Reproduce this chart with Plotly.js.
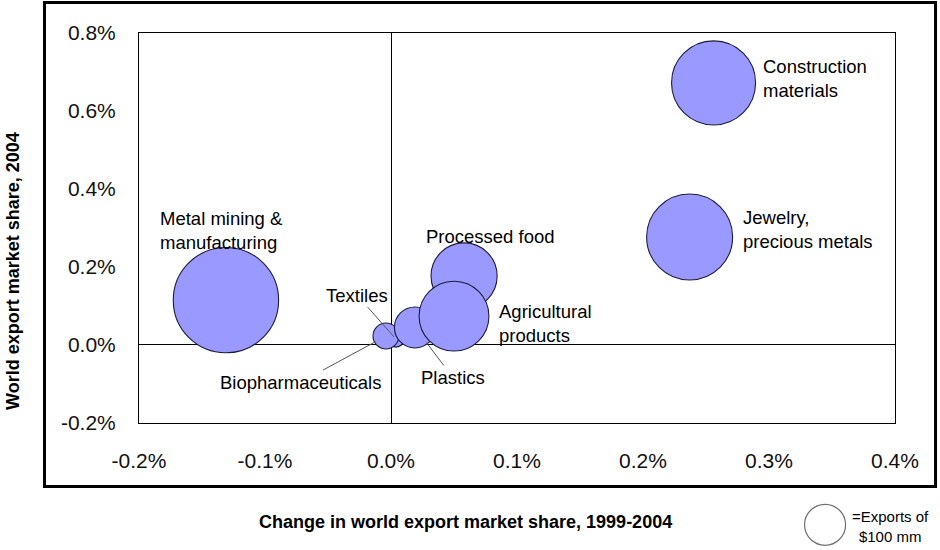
<!DOCTYPE html>
<html>
<head>
<meta charset="utf-8">
<script src="https://cdn.plot.ly/plotly-3.0.1.min.js"></script>
<style>
  html, body { margin: 0; padding: 0; background: #ffffff; }
  #chart { width: 940px; height: 550px; }
</style>
</head>
<body>
<div id="chart"></div>
<script>
// ---- Data ----
const industries = [
  "Construction<br>materials",
  "Jewelry,<br>precious metals",
  "Metal mining &<br>manufacturing",
  "Processed food",
  "Textiles",
  "Biopharmaceuticals",
  "Plastics",
  "Agricultural<br>products"
];
// Change in world export market share, 1999-2004 (%)
const shareChange = [0.256, 0.237, -0.131, 0.058, 0.004, -0.004, 0.019, 0.050];
// World export market share, 2004 (%)
const share2004 = [0.672, 0.277, 0.115, 0.177, 0.015, 0.023, 0.045, 0.074];
// Exports ($ mm) -> bubble area
const exportsMM = [420, 440, 660, 260, 15, 40, 100, 290];
// Reference bubble for the size key
const keyExports = [100];
const xTicks = [-0.2, -0.1, 0.0, 0.1, 0.2, 0.3, 0.4];
const yTicks = [-0.2, 0.0, 0.2, 0.4, 0.6, 0.8];

// ---- Styling / placement (not data) ----
const FONT = "Liberation Sans, Arial, Helvetica, sans-serif";
const SIZEREF = 0.119; // area mode: radius^2 = size / (2*sizeref)
// drawing order indices (later = on top)
const order = [0, 1, 2, 3, 4, 5, 6, 7];

// label placement: [xanchor, xshift, yshift] relative to bubble, or arrow offsets
const labelStyle = {
  0: {type: "text", xshift: 47, yshift: 4},
  1: {type: "text", xshift: 51, yshift: 7},
  2: {type: "text", xshift: -68, yshift: 70},
  3: {type: "text", xshift: -40, yshift: 39},
  4: {type: "arrow", ax: -39, ay: -44, standoff: 3},
  5: {type: "arrow", ax: -85, ay: 46, standoff: 12},
  6: {type: "arrow", ax: 38, ay: 50, standoff: 19},
  7: {type: "text", xshift: 43, yshift: -7}
};

const bubbleTrace = {
  type: "scatter",
  mode: "markers",
  x: order.map(i => shareChange[i]),
  y: order.map(i => share2004[i]),
  text: order.map(i => industries[i]),
  xaxis: "x", yaxis: "y",
  cliponaxis: false,
  hoverinfo: "skip",
  marker: {
    size: order.map(i => exportsMM[i]),
    sizemode: "area",
    sizeref: SIZEREF,
    color: "#9999FF",
    opacity: 1,
    line: {color: "#1c1c3a", width: 1.1}
  },
  showlegend: false
};

const keyTrace = {
  type: "scatter",
  mode: "markers",
  x: [0.5], y: [0.5],
  xaxis: "x2", yaxis: "y2",
  cliponaxis: false,
  hoverinfo: "skip",
  marker: {
    size: keyExports,
    sizemode: "area",
    sizeref: SIZEREF,
    color: "#ffffff",
    line: {color: "#333333", width: 1.2}
  },
  showlegend: false
};

const annotations = [];
industries.forEach((name, i) => {
  const s = labelStyle[i];
  const base = {
    x: shareChange[i], y: share2004[i], xref: "x", yref: "y",
    text: name,
    font: {family: FONT, size: 18.5, color: "#000000"},
  };
  if (s.type === "text") {
    annotations.push(Object.assign(base, {
      showarrow: false, xanchor: "left", yanchor: "middle", align: "left",
      xshift: s.xshift, yshift: s.yshift
    }));
  } else {
    annotations.push(Object.assign(base, {
      showarrow: true, arrowhead: 0, arrowwidth: 1, arrowcolor: "#555555",
      ax: s.ax, ay: s.ay, standoff: s.standoff
    }));
  }
});

// axis titles and size key text
annotations.push({
  xref: "paper", yref: "paper", x: 0.4325, y: 0.0355,
  text: "<b>Change in world export market share, 1999-2004</b>",
  showarrow: false, xanchor: "center", yanchor: "middle",
  font: {family: FONT, size: 18, color: "#000000"}
});
annotations.push({
  xref: "paper", yref: "paper", x: -0.1667, y: 0.5306,
  text: "<b>World export market share, 2004</b>",
  textangle: -90,
  showarrow: false, xanchor: "center", yanchor: "middle",
  font: {family: FONT, size: 18, color: "#000000"}
});
annotations.push({
  xref: "paper", yref: "paper", x: 0.9947, y: 0.0276,
  text: "=Exports of<br>$100 mm",
  showarrow: false, xanchor: "center", yanchor: "middle", align: "center",
  font: {family: FONT, size: 15, color: "#000000"}
});

const layout = {
  width: 940, height: 550,
  margin: {l: 139, r: 45, t: 33, b: 10, pad: 0},
  paper_bgcolor: "#ffffff",
  plot_bgcolor: "#ffffff",
  font: {family: FONT, color: "#000000"},
  showlegend: false,
  xaxis: {
    domain: [0, 1], anchor: "y",
    range: [-0.2, 0.4],
    tickvals: xTicks,
    ticktext: xTicks.map(v => v.toFixed(1) + "%"),
    ticks: "", showgrid: false,
    zeroline: true, zerolinecolor: "#000000", zerolinewidth: 1,
    showline: true, mirror: true, linecolor: "#000000", linewidth: 1,
    tickfont: {family: FONT, size: 21, color: "#111111"},
    ticklabelstandoff: 19,
    fixedrange: true
  },
  yaxis: {
    domain: [0.2308, 1], anchor: "x",
    range: [-0.2, 0.8],
    tickvals: yTicks,
    ticktext: yTicks.map(v => v.toFixed(1) + "%"),
    ticks: "", showgrid: false,
    zeroline: true, zerolinecolor: "#000000", zerolinewidth: 1,
    showline: true, mirror: true, linecolor: "#000000", linewidth: 1,
    tickfont: {family: FONT, size: 21, color: "#111111"},
    ticklabelstandoff: 18,
    fixedrange: true
  },
  xaxis2: {domain: [0.88, 0.935], anchor: "y2", range: [0, 1], visible: false, fixedrange: true},
  yaxis2: {domain: [0, 0.06], anchor: "x2", range: [0, 1], visible: false, fixedrange: true},
  shapes: [{
    type: "rect", xref: "paper", yref: "paper",
    x0: -0.125, x1: 1.0536, y0: 0.1055, y1: 1.0602,
    line: {color: "#000000", width: 3}, fillcolor: "rgba(0,0,0,0)", layer: "below"
  }],
  annotations: annotations
};

Plotly.newPlot("chart", [bubbleTrace, keyTrace], layout, {displayModeBar: false, staticPlot: true});
</script>
</body>
</html>
